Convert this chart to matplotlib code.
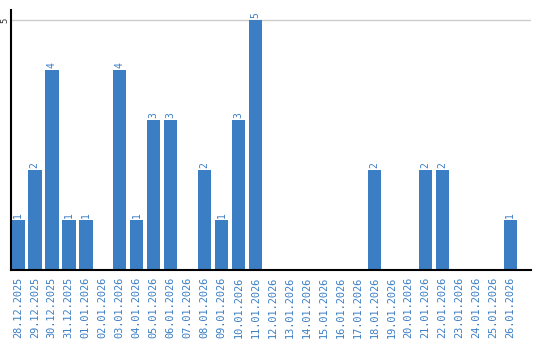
import matplotlib
matplotlib.use("Agg")
import matplotlib.pyplot as plt

dates = ["28.12.2025", "29.12.2025", "30.12.2025", "31.12.2025", "01.01.2026",
         "02.01.2026", "03.01.2026", "04.01.2026", "05.01.2026", "06.01.2026",
         "07.01.2026", "08.01.2026", "09.01.2026", "10.01.2026", "11.01.2026",
         "12.01.2026", "13.01.2026", "14.01.2026", "15.01.2026", "16.01.2026",
         "17.01.2026", "18.01.2026", "19.01.2026", "20.01.2026", "21.01.2026",
         "22.01.2026", "23.01.2026", "24.01.2026", "25.01.2026", "26.01.2026"]
counts = [1, 2, 4, 1, 1, 0, 4, 1, 3, 3, 0, 2, 1, 3, 5,
          0, 0, 0, 0, 0, 0, 2, 0, 0, 2, 2, 0, 0, 0, 1]

bar_color = "#3b7ec4"
label_color = "#3b7ec4"

fig = plt.figure(figsize=(5.4, 3.4), dpi=100)
ax = fig.add_axes([11/540, 70/340, 519.7/540, 260/340])

x = list(range(len(dates)))
ax.bar(x, counts, width=0.8, color=bar_color, zorder=3)

for xi, v in zip(x, counts):
    if v > 0:
        ax.text(xi, v + 0.04, str(v), rotation=90, ha="center", va="bottom",
                fontsize=7, color=label_color, family="DejaVu Sans Mono")

ax.set_xlim(-0.4, 30.2)
ax.set_ylim(0, 5.2)
ax.set_yticks([5])
ax.set_yticklabels(["5"], rotation=90, va="center", fontsize=6.5, color="#333333",
                   family="DejaVu Sans Mono")
ax.yaxis.grid(True, color="#cccccc", linewidth=1, zorder=0)
ax.set_xticks(x)
ax.set_xticklabels(dates, rotation=90, fontsize=7.4, color=label_color,
                   family="DejaVu Sans Mono")
ax.tick_params(axis="both", length=0)
ax.tick_params(axis="x", pad=5)
ax.tick_params(axis="y", pad=1)

for s in ["top", "right"]:
    ax.spines[s].set_visible(False)
for s in ["left", "bottom"]:
    ax.spines[s].set_color("black")
    ax.spines[s].set_linewidth(1.5)
    ax.spines[s].set_zorder(4)

fig.savefig("out.png", dpi=100)
